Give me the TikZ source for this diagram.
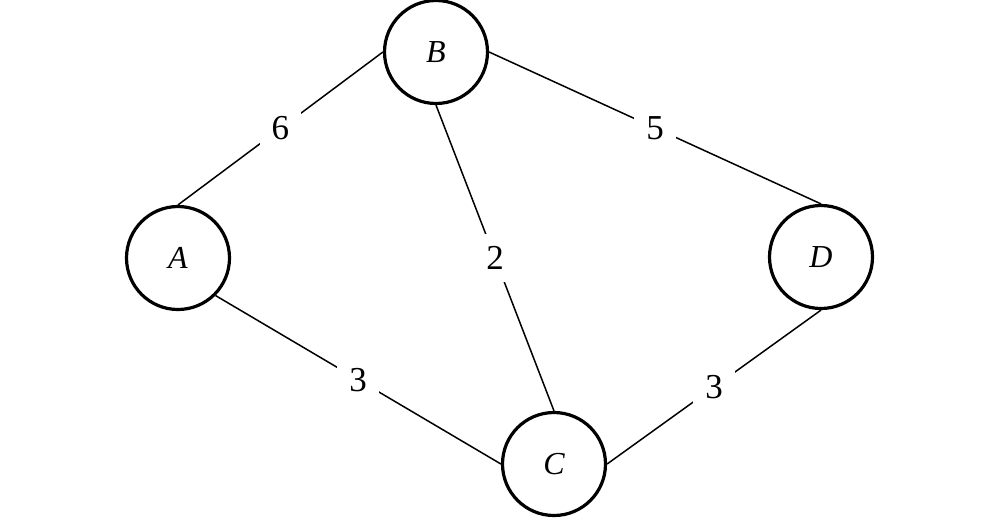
\documentclass[tikz,border=0pt]{standalone}
\usepackage{fontspec}
\setmainfont{Liberation Serif}
\begin{document}
\begin{tikzpicture}[x=1pt,y=-1pt,
  vert/.style={circle,draw,line width=3.2pt,minimum size=103pt,inner sep=0pt,font=\fontsize{32}{38}\selectfont\itshape},
  edge/.style={line width=1.5pt},
  wlabel/.style={midway,fill=white,inner sep=12pt,font=\fontsize{35}{40}\selectfont}]
\useasboundingbox (0,0) rectangle (1000,517);
\node[vert] (A) at (178,258) {A};
\node[vert] (B) at (436,52) {B};
\node[vert] (C) at (554,464) {C};
\node[vert] (D) at (821,257) {D};
\draw[edge] (A.north) -- node[wlabel] {6} (B.west);
\draw[edge] (B.east) -- node[wlabel] {5} (D.north);
\draw[edge] (B.south) -- node[wlabel] {2} (C.north);
\draw[edge] (A.south east) -- node[wlabel] {3} (C.west);
\draw[edge] (C.east) -- node[wlabel] {3} (D.south);
\end{tikzpicture}
\end{document}
